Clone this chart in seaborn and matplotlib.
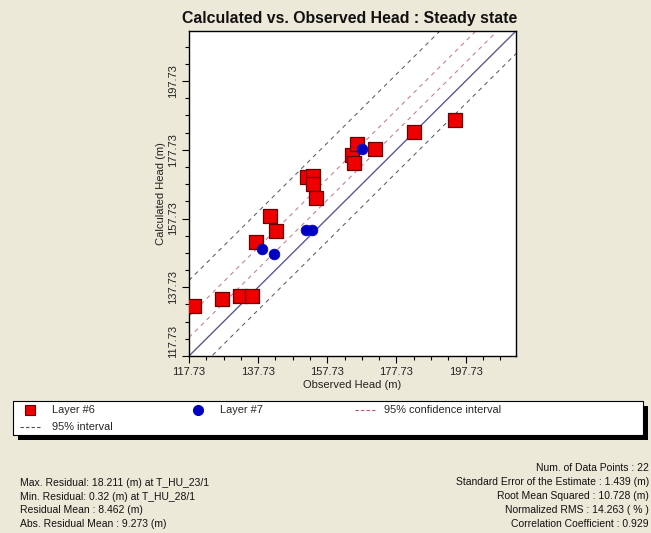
import numpy as np
import pandas as pd
import matplotlib
matplotlib.use("Agg")
import matplotlib.pyplot as plt
import seaborn as sns
from matplotlib.patches import Rectangle
from matplotlib.lines import Line2D
from matplotlib.transforms import ScaledTranslation

# ---------------- data ----------------
layer6_obs = [119.18, 127.39, 132.39, 135.94, 137.21, 141.06, 142.80, 151.84, 153.58,
              153.58, 154.56, 164.85, 166.30, 165.43, 171.62, 182.78, 194.75]
layer6_calc = [132.19, 134.30, 135.08, 135.08, 150.98, 158.58, 154.16, 169.86, 170.06,
               167.66, 163.78, 176.33, 179.40, 173.90, 177.95, 182.86, 186.45]
layer7_obs = [138.75, 142.30, 151.67, 153.40, 167.66]
layer7_calc = [148.87, 147.42, 154.36, 154.53, 177.95]

axis_min, axis_max = 117.73, 212.3
tick_values = [117.73, 137.73, 157.73, 177.73, 197.73]
tick_labels = ["117.73", "137.73", "157.73", "177.73", "197.73"]
ci_offsets = [5.4, 11.6]          # 95% confidence interval (calc - obs)
interval_offsets = [-6.6, 22.0]   # 95% interval

title = "Calculated vs. Observed Head : Steady state"
xlabel = "Observed Head (m)"
ylabel = "Calculated Head (m)"
legend_labels = ["Layer #6", "Layer #7", "95% confidence interval", "95% interval"]
stats_left = ["Max. Residual: 18.211 (m) at T_HU_23/1",
              "Min. Residual: 0.32 (m) at T_HU_28/1",
              "Residual Mean : 8.462 (m)",
              "Abs. Residual Mean : 9.273 (m)"]
stats_right = ["Num. of Data Points : 22",
               "Standard Error of the Estimate : 1.439 (m)",
               "Root Mean Squared : 10.728 (m)",
               "Normalized RMS : 14.263 ( % )",
               "Correlation Coefficient : 0.929"]

# ---------------- style ----------------
sns.set_theme(style="ticks")
plt.rcParams["font.family"] = ["Liberation Sans", "DejaVu Sans"]

BG = "#ece9d8"
W, H = 651, 533
fig = plt.figure(figsize=(W / 100, H / 100), dpi=100, facecolor=BG)


def fx(px):
    return px / W


def fy(py):
    return 1 - py / H


ax = fig.add_axes([fx(189), fy(356), (516 - 189) / W, (356 - 31) / H])
ax.set_facecolor("white")

CI_COL = "#c27a92"
INT_COL = "#5a5a6c"

# reference lines
line_x = [axis_min, axis_max]
df11 = pd.DataFrame({"x": line_x, "y": line_x})
sns.lineplot(data=df11, x="x", y="y", ax=ax, color="#5a5a96", lw=1.0, zorder=2)
for off in ci_offsets:
    d = pd.DataFrame({"x": line_x, "y": [v + off for v in line_x]})
    sns.lineplot(data=d, x="x", y="y", ax=ax, color=CI_COL, lw=0.75,
                 linestyle=(0, (4, 4)), zorder=2)
for off in interval_offsets:
    d = pd.DataFrame({"x": line_x, "y": [v + off for v in line_x]})
    sns.lineplot(data=d, x="x", y="y", ax=ax, color=INT_COL, lw=0.75,
                 linestyle=(0, (4, 4)), zorder=2)

# points
df6 = pd.DataFrame({"obs": layer6_obs, "calc": layer6_calc})
df7 = pd.DataFrame({"obs": layer7_obs, "calc": layer7_calc})
sns.scatterplot(data=df6, x="obs", y="calc", ax=ax, marker="s", s=105,
                color="#ee0000", edgecolor="#6a0000", linewidth=0.9, zorder=3)
sns.scatterplot(data=df7, x="obs", y="calc", ax=ax, marker="o", s=60,
                color="#0000c0", edgecolor="#0000c0", linewidth=0.5, zorder=4)

ax.set_xlim(axis_min, axis_max)
ax.set_ylim(axis_min, axis_max)
ax.set_xticks(tick_values)
ax.set_xticklabels(tick_labels)
ax.set_yticks(tick_values)
ax.set_yticklabels(tick_labels)
minor = [v for v in np.arange(axis_min, axis_max, 5.0)]
ax.set_xticks(minor, minor=True)
ax.set_yticks(minor, minor=True)
ax.tick_params(which="major", direction="out", length=5, width=0.8, color="black",
               labelsize=8, labelcolor="#222222", pad=3, bottom=True, left=True)
ax.tick_params(which="minor", direction="out", length=3, width=0.8, color="black",
               bottom=True, left=True)
for lab in ax.get_yticklabels():
    lab.set_rotation(90)
    lab.set_va("center")
first = ax.get_yticklabels()[0]
first.set_transform(first.get_transform() + ScaledTranslation(0, 0.15, fig.dpi_scale_trans))
for sp in ax.spines.values():
    sp.set_color("black")
    sp.set_linewidth(1.0)
ax.set_xlabel(xlabel, fontsize=8, labelpad=2, color="#222222")
ax.set_ylabel(ylabel, fontsize=8, labelpad=1, color="#222222")

# title
fig.text(fx(350), fy(18), title, ha="center", va="center", fontsize=11.4,
         fontweight="bold", color="#111111")

# legend box (manual layout to match reference)
fig.add_artist(Rectangle((fx(18), fy(440)), 630 / W, 34 / H, transform=fig.transFigure,
                         facecolor="black", edgecolor="none", zorder=1))
fig.add_artist(Rectangle((fx(13), fy(435)), 630 / W, 34 / H, transform=fig.transFigure,
                         facecolor="white", edgecolor="black", lw=0.8, zorder=2))
yr1, yr2 = fy(410), fy(427)
LFS = 7.9
fig.add_artist(Line2D([fx(30)], [yr1], marker="s", ms=7.5, color="#ee0000",
                      mec="#6a0000", mew=0.8, transform=fig.transFigure, zorder=3))
fig.text(fx(52), yr1, legend_labels[0], fontsize=LFS, va="center", zorder=3)
fig.add_artist(Line2D([fx(198)], [yr1], marker="o", ms=7, color="#0000c0",
                      transform=fig.transFigure, zorder=3))
fig.text(fx(220), yr1, legend_labels[1], fontsize=LFS, va="center", zorder=3)
fig.add_artist(Line2D([fx(355), fx(376)], [yr1, yr1], color="#c0506e", lw=0.8,
                      linestyle=(0, (3, 2)), transform=fig.transFigure, zorder=3))
fig.text(fx(384), yr1, legend_labels[2], fontsize=LFS, va="center", zorder=3)
fig.add_artist(Line2D([fx(20), fx(41)], [yr2, yr2], color="#4a4a5e", lw=0.8,
                      linestyle=(0, (3, 2)), transform=fig.transFigure, zorder=3))
fig.text(fx(52), yr2, legend_labels[3], fontsize=LFS, va="center", zorder=3)

# statistics
for i, s in enumerate(stats_left):
    fig.text(fx(20), fy(483 + 13.7 * i), s, fontsize=7.5, va="center", color="#111111")
for i, s in enumerate(stats_right):
    fig.text(fx(649), fy(468 + 14 * i), s, fontsize=7.5, va="center", ha="right",
             color="#111111")

fig.savefig("out.png", dpi=100, facecolor=BG)
